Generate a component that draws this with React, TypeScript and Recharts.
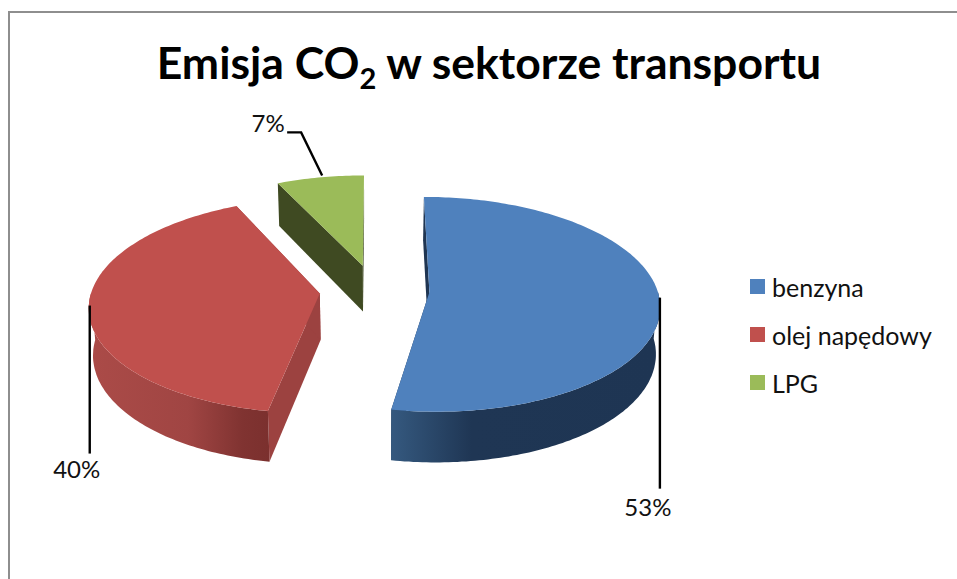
import { PieChart, Pie, Legend } from "recharts";

const CATEGORIES = ["benzyna", "olej napędowy", "LPG"];
const VALUES = [52.8, 40.2, 7];
const COLORS = ["#4f81bd", "#c0504d", "#9bbb59"];

// side colours of the fake 3D slices
const CUT_COLORS = ["#1f3552", "#9c4240", "#3f4a22"];
const RIM_STOPS = [
  [[0, "#35597f"], [0.3, "#1f3654"], [1, "#1e3553"]],
  [[0, "#ab4b48"], [0.55, "#a04543"], [0.85, "#803331"], [1, "#7b302e"]],
  [[0, "#3f4a22"], [1, "#3f4a22"]],
];

// leader line + text offsets from the slice's mid rim point
const LEADERS = [
  [[0, -4], [0, 187]],
  [[1, -2], [1, 146]],
  [[2, -2], [-19, -45], [-33, -45]],
];
const LABEL_OFFSETS = [[-12, 214], [-12, 170], [-52, -45]];

const CX = 374.5;
const CY = 290;
const RADIUS = 228;
const EXPLODE = 55;
const TILT = 0.463;
const PERSPECTIVE = 0.112;
const DEPTH = 46.5;
const BOTTOM_SCALE = 0.985;

const data = CATEGORIES.map((name, i) => ({ name, value: VALUES[i], fill: COLORS[i] }));

const rad = (d: number) => (d * Math.PI) / 180;

// ground plane point -> screen, with simple perspective
function project(X: number, Y: number, bottom = false) {
  const s = 1 / (1 + (PERSPECTIVE * Y) / RADIUS);
  const k = bottom ? s * BOTTOM_SCALE : s;
  return {
    x: CX + X * k,
    y: CY - TILT * Y * k + (bottom ? DEPTH * s : 0),
  };
}

function slicePoint(theta: number, mid: number, r: number, bottom = false) {
  const X = EXPLODE * Math.sin(rad(mid)) + r * Math.sin(rad(theta));
  const Y = EXPLODE * Math.cos(rad(mid)) + r * Math.cos(rad(theta));
  return project(X, Y, bottom);
}

const toPath = (pts: { x: number; y: number }[]) =>
  pts.map((p, i) => `${i ? "L" : "M"}${p.x.toFixed(1)},${p.y.toFixed(1)}`).join(" ") + " Z";

function arc(from: number, to: number, mid: number, r: number, bottom = false) {
  const pts = [];
  for (let t = from; t < to; t += 1) pts.push(slicePoint(t, mid, r, bottom));
  pts.push(slicePoint(to, mid, r, bottom));
  return pts;
}

function Slice3D(props: any) {
  const { startAngle, endAngle, outerRadius, fill, index } = props;
  const a = 90 - startAngle;
  const b = 90 - endAngle;
  const mid = (a + b) / 2;
  const r = outerRadius;

  const cutWall = (t: number) =>
    toPath([
      slicePoint(t, mid, 0),
      slicePoint(t, mid, r),
      slicePoint(t, mid, r, true),
      slicePoint(t, mid, 0, true),
    ]);

  const rimFrom = Math.max(a, 90);
  const rimTo = Math.min(b, 270);
  const gradId = `rim-${index}`;

  return (
    <g>
      <defs>
        <linearGradient id={gradId} x1="0" y1="0" x2="1" y2="0">
          {RIM_STOPS[index].map(([o, c]: any) => (
            <stop key={o} offset={o} stopColor={c} />
          ))}
        </linearGradient>
      </defs>
      <path d={cutWall(a)} fill={CUT_COLORS[index]} />
      <path d={cutWall(b)} fill={CUT_COLORS[index]} />
      {rimTo > rimFrom && (
        <path
          d={toPath([
            ...arc(rimFrom, rimTo, mid, r),
            ...arc(rimFrom, rimTo, mid, r, true).reverse(),
          ])}
          fill={`url(#${gradId})`}
        />
      )}
      <path d={toPath([slicePoint(a, mid, 0), ...arc(a, b, mid, r)])} fill={fill} />
    </g>
  );
}

function renderLabel(props: any) {
  const { midAngle, percent, index, outerRadius } = props;
  const theta = 90 - midAngle;
  const p = slicePoint(theta, theta, outerRadius);
  const pts = LEADERS[index].map(([dx, dy]) => `${p.x + dx},${p.y + dy}`).join(" ");
  const [tx, ty] = LABEL_OFFSETS[index];
  return (
    <g key={index}>
      <polyline points={pts} fill="none" stroke="#000" strokeWidth={2.4} />
      <text x={p.x + tx} y={p.y + ty} textAnchor="middle" fontSize={24} fontFamily="Lato" fill="#111">
        {Math.round(percent * 100)}%
      </text>
    </g>
  );
}

function ChartLegend({ payload }: any) {
  return (
    <div style={{ display: "flex", flexDirection: "column", gap: 19 }}>
      {(payload ?? []).map((entry: any) => (
        <div key={entry.value} style={{ display: "flex", alignItems: "center", height: 29 }}>
          <span style={{ width: 15, height: 15, background: entry.color, marginRight: 7 }} />
          <span style={{ fontFamily: "Lato", fontSize: 25, color: "#111" }}>{entry.value}</span>
        </div>
      ))}
    </div>
  );
}

export default function App() {
  return (
    <div style={{ position: "absolute", left: 0, top: 0, width: 957, height: 579, overflow: "hidden", background: "#fff" }}>
      {/* chart frame, right and bottom edges fall outside the crop */}
      <div
        style={{
          position: "absolute",
          left: 8,
          top: 11,
          right: 0,
          bottom: 0,
          borderTop: "2px solid #8e8e8e",
          borderLeft: "2px solid #8e8e8e",
        }}
      />
      <div
        style={{
          position: "absolute",
          left: 0,
          width: 978,
          top: 34,
          textAlign: "center",
          fontFamily: "Lato",
          fontWeight: 700,
          fontSize: 44.5,
          lineHeight: "56px",
          color: "#000",
          whiteSpace: "nowrap",
        }}
      >
        Emisja CO<sub style={{ fontSize: 29, lineHeight: 0 }}>2</sub> w sektorze transportu
      </div>
      <PieChart width={957} height={579} style={{ position: "absolute", left: 0, top: 0 }}>
        <Pie
          data={data}
          dataKey="value"
          nameKey="name"
          cx={CX}
          cy={CY}
          outerRadius={RADIUS}
          startAngle={90}
          endAngle={-270}
          stroke="none"
          shape={Slice3D}
          label={renderLabel}
          labelLine={false}
          isAnimationActive={false}
        />
        <Legend
          layout="vertical"
          align="right"
          verticalAlign="top"
          itemSorter={null}
          content={<ChartLegend />}
          wrapperStyle={{ left: 750, top: 272, width: 200 }}
        />
      </PieChart>
    </div>
  );
}
